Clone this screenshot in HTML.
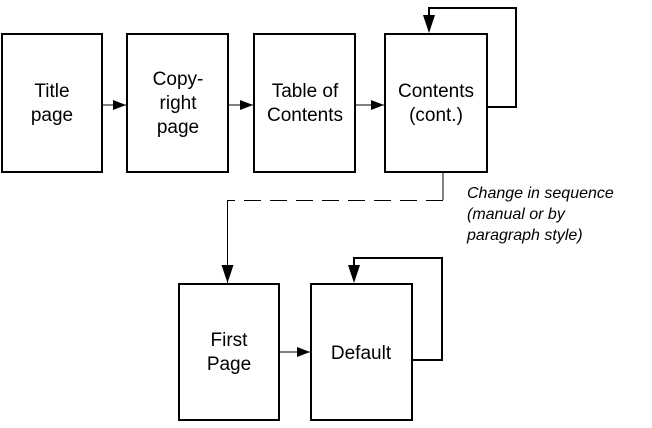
<!DOCTYPE html>
<html><head><style>
body{margin:0;background:#fff;}
svg text{font-family:"Liberation Sans",Arial,sans-serif;font-size:19px;fill:#000;}
</style></head><body>
<svg width="652" height="423" viewBox="0 0 652 423" xmlns="http://www.w3.org/2000/svg">
<defs><marker id="a" markerWidth="13" markerHeight="10" refX="13" refY="5" orient="auto" markerUnits="userSpaceOnUse"><path d="M0,0 L13,5 L0,10 Z" fill="#000"/></marker>
<marker id="b" markerWidth="18" markerHeight="12" refX="18" refY="6" orient="auto" markerUnits="userSpaceOnUse"><path d="M0,0 L18,6 L0,12 Z" fill="#000"/></marker></defs>
<g fill="none" stroke="#000" stroke-width="2">
<rect x="2" y="34" width="100" height="138"/>
<rect x="127" y="34" width="101" height="138"/>
<rect x="254" y="34" width="101" height="138"/>
<rect x="385" y="34" width="102" height="138"/>
<rect x="179" y="284" width="100" height="136"/>
<rect x="311" y="284" width="101" height="136"/>
</g>
<g stroke="#000" stroke-width="1" fill="none">
<line x1="102" y1="105" x2="126" y2="105" marker-end="url(#a)"/>
<line x1="228" y1="105" x2="253" y2="105" marker-end="url(#a)"/>
<line x1="355" y1="105" x2="384" y2="105" marker-end="url(#a)"/>
<line x1="279" y1="352" x2="310" y2="352" marker-end="url(#a)"/>
<line x1="443" y1="172" x2="443" y2="200"/>
<line x1="443" y1="200.5" x2="228" y2="200.5" stroke-dasharray="17,9"/>
<line x1="227.5" y1="200" x2="227.5" y2="283" marker-end="url(#b)"/>
</g>
<g stroke="#000" stroke-width="2" fill="none">
<polyline points="487,107 516,107 516,8 429,8 429,16"/>
<polyline points="412,360 442,360 442,258 354,258 354,266"/>
</g>
<path d="M423,15 L435,15 L429,33 Z"/>
<path d="M348,265 L360,265 L354,283 Z"/>
<g text-anchor="middle">
<text x="52" y="97">Title</text><text x="52" y="121">page</text>
<text x="178" y="85">Copy-</text><text x="178" y="109">right</text><text x="178" y="133">page</text>
<text x="305" y="97">Table of</text><text x="305" y="121">Contents</text>
<text x="436" y="97">Contents</text><text x="436" y="121">(cont.)</text>
<text x="229" y="346">First</text><text x="229" y="370">Page</text>
<text x="361" y="359">Default</text>
</g>
<g style="font-style:italic">
<text x="467" y="198" style="font-size:16px">Change in sequence</text>
<text x="467" y="219" style="font-size:16px">(manual or by</text>
<text x="467" y="240" style="font-size:16px">paragraph style)</text>
</g>
</svg>
</body></html>
